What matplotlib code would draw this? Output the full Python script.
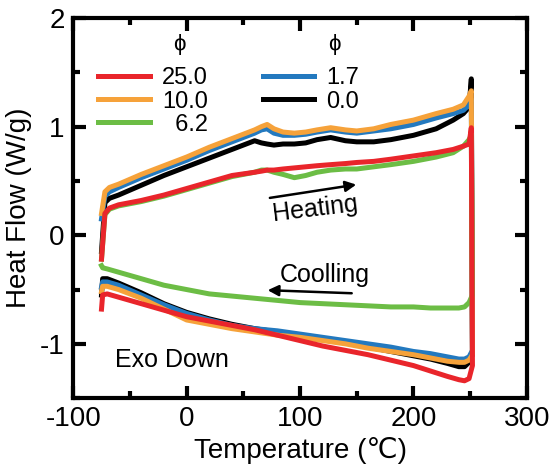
import matplotlib
matplotlib.use('Agg')
import matplotlib.pyplot as plt
from matplotlib.lines import Line2D
from matplotlib.ticker import MultipleLocator

plt.rcParams['font.family'] = ['Liberation Sans', 'DejaVu Sans']
plt.rcParams['axes.unicode_minus'] = False

# heating branch (upper), temperatures in degC
t_heat = [-75, -72, -68, -60, -40, -20, 0, 20, 40, 60, 66, 71, 77, 85, 95, 105,
          115, 127, 140, 150, 165, 180, 200, 220, 235, 244, 249, 251]
heat_red = [-0.22, 0.20, 0.25, 0.28, 0.32, 0.37, 0.43, 0.49, 0.55, 0.58, 0.59, 0.60, 0.60,
            0.61, 0.62, 0.63, 0.64, 0.65, 0.66, 0.67, 0.68, 0.70, 0.73, 0.76, 0.79, 0.82, 0.84, 0.99]
heat_orange = [0.20, 0.40, 0.44, 0.47, 0.56, 0.64, 0.72, 0.81, 0.89, 0.97, 1.00, 1.02, 0.98,
               0.95, 0.94, 0.95, 0.97, 0.99, 0.97, 0.96, 0.98, 1.02, 1.06, 1.12, 1.16, 1.20, 1.28, 1.33]
heat_green = [-0.22, 0.19, 0.24, 0.27, 0.31, 0.36, 0.42, 0.48, 0.54, 0.58, 0.60, 0.60, 0.58,
              0.56, 0.53, 0.55, 0.58, 0.60, 0.61, 0.61, 0.63, 0.65, 0.68, 0.72, 0.76, 0.82, 0.88, 0.92]
heat_blue = [0.15, 0.36, 0.40, 0.44, 0.53, 0.61, 0.69, 0.78, 0.86, 0.94, 0.97, 0.98, 0.94,
             0.92, 0.92, 0.93, 0.95, 0.97, 0.95, 0.94, 0.96, 0.98, 1.02, 1.08, 1.12, 1.15, 1.20, 1.25]
heat_black = [-0.15, 0.30, 0.34, 0.37, 0.46, 0.55, 0.63, 0.71, 0.79, 0.87, 0.85, 0.84, 0.83,
              0.84, 0.84, 0.85, 0.88, 0.90, 0.87, 0.86, 0.86, 0.88, 0.92, 0.98, 1.06, 1.12, 1.18, 1.44]

# cooling branch (lower), run from hot to cold
t_cool = [252, 249, 245, 240, 230, 215, 200, 180, 160, 140, 120, 100, 80, 60, 40, 20,
          0, -20, -40, -60, -70, -74, -75]
cool_red = [-1.20, -1.32, -1.34, -1.33, -1.30, -1.25, -1.20, -1.15, -1.10, -1.06, -1.02,
            -0.97, -0.92, -0.87, -0.83, -0.79, -0.75, -0.69, -0.63, -0.57, -0.54, -0.55, -0.68]
cool_orange = [-1.10, -1.15, -1.17, -1.17, -1.16, -1.13, -1.10, -1.07, -1.04, -1.00, -0.97,
               -0.94, -0.92, -0.89, -0.86, -0.82, -0.78, -0.68, -0.58, -0.50, -0.47, -0.47, -0.52]
cool_green = [-0.55, -0.62, -0.66, -0.67, -0.67, -0.67, -0.66, -0.66, -0.65, -0.64, -0.63,
              -0.62, -0.60, -0.58, -0.56, -0.54, -0.50, -0.46, -0.40, -0.34, -0.31, -0.30, -0.28]
cool_blue = [-1.06, -1.12, -1.14, -1.14, -1.12, -1.09, -1.07, -1.03, -1.00, -0.97, -0.94,
             -0.91, -0.88, -0.86, -0.83, -0.78, -0.72, -0.64, -0.55, -0.46, -0.43, -0.43, -0.48]
cool_black = [-1.10, -1.17, -1.21, -1.21, -1.18, -1.14, -1.11, -1.07, -1.03, -0.99, -0.95,
              -0.92, -0.89, -0.86, -0.82, -0.77, -0.71, -0.63, -0.53, -0.44, -0.40, -0.40, -0.55]

labels = ['25.0', '10.0', '\u20076.2', '1.7', '0.0']
colours = ['#e9252b', '#f6a23a', '#6cbd45', '#2379bf', '#000000']
heat = [heat_red, heat_orange, heat_green, heat_blue, heat_black]
cool = [cool_red, cool_orange, cool_green, cool_blue, cool_black]
zorders = [6, 4, 5, 3, 2]

fig = plt.figure(figsize=(5.5, 4.74), dpi=100)
ax = fig.add_axes([0.133, 0.160, 0.825, 0.802])

lw = 3.6
for h, c, col, z in zip(heat, cool, colours, zorders):
    ax.plot(t_heat + t_cool, h + c, color=col, lw=lw, zorder=z, solid_joinstyle='round')

ax.set_xlim(-100, 300)
ax.set_ylim(-1.5, 2)
ax.xaxis.set_major_locator(MultipleLocator(100))
ax.xaxis.set_minor_locator(MultipleLocator(50))
ax.yaxis.set_major_locator(MultipleLocator(1))
ax.yaxis.set_minor_locator(MultipleLocator(0.5))
ax.tick_params(which='both', direction='in', top=True, right=True, labelsize=20, width=3)
ax.tick_params(which='major', length=9, pad=6)
ax.tick_params(which='minor', length=5)
for sp in ax.spines.values():
    sp.set_linewidth(3)

ax.set_xlabel('Temperature (\u2103)', fontsize=20, labelpad=3)
ax.set_ylabel('Heat Flow (W/g)', fontsize=20, labelpad=6)

# legend, two columns with a phi header over each
handles = [Line2D([], [], color=col, lw=lw) for col in colours]
leg = ax.legend(handles, labels, ncol=2, loc='upper left', bbox_to_anchor=(0.035, 0.895),
                frameon=False, fontsize=17, handlelength=2.2, handletextpad=0.5,
                columnspacing=2.3, labelspacing=0.05, borderaxespad=0)
ax.text(0.235, 0.93, '\u03d5', transform=ax.transAxes, fontsize=16, ha='center', va='center')
ax.text(0.575, 0.93, '\u03d5', transform=ax.transAxes, fontsize=16, ha='center', va='center')

# annotations
ax.annotate('', xy=(152, 0.47), xytext=(71, 0.34),
            arrowprops=dict(arrowstyle='-|>', color='black', lw=1.8, mutation_scale=16))
ax.text(113, 0.24, 'Heating', fontsize=18, ha='center', va='center', rotation=7)
ax.text(122, -0.37, 'Coolling', fontsize=18, ha='center', va='center')
ax.annotate('', xy=(69, -0.505), xytext=(148, -0.535),
            arrowprops=dict(arrowstyle='-|>', color='black', lw=1.8, mutation_scale=16))
ax.text(-63, -1.15, 'Exo Down', fontsize=18, ha='left', va='center')

fig.savefig('out.png', dpi=100)
